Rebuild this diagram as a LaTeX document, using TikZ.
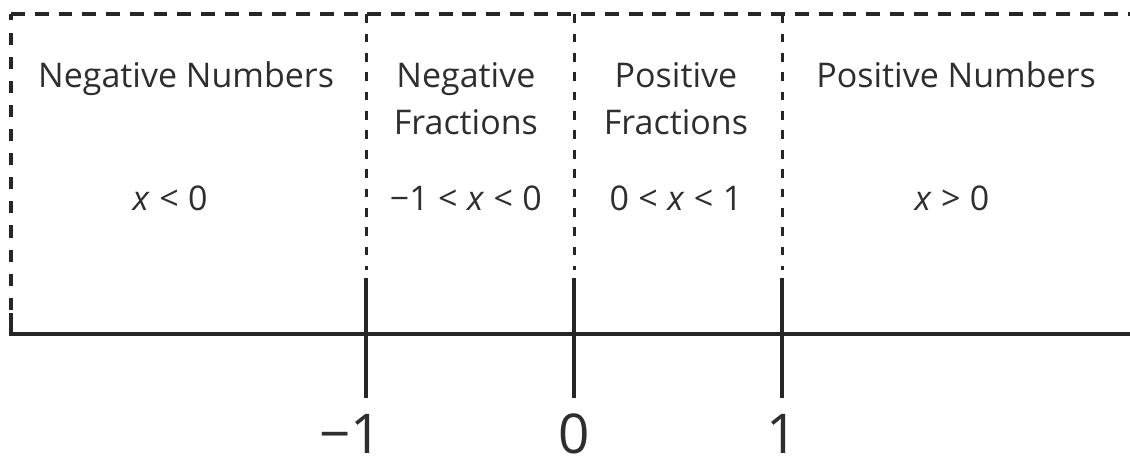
\documentclass[tikz,border=0pt]{standalone}
\usepackage{fontspec}
\setmainfont{Open Sans}
\usetikzlibrary{positioning}

\begin{document}
\begin{tikzpicture}[x=2cm, y=2cm, line join=miter,
    region/.style={font=\fontsize{9.3}{12.9}\selectfont, align=center, anchor=base, inner sep=0pt, text=black!82},
    ineq/.style={font=\fontsize{9.3}{12.9}\selectfont, anchor=base, inner sep=0pt, text=black!82},
    ticklabel/.style={font=\fontsize{15}{16}\selectfont, anchor=base, inner sep=0pt, text depth=0pt, text=black!82},
    frame/.style={black!85, line width=1.2pt, dash pattern=on 3.8pt off 2.7pt},
    sideframe/.style={black!85, line width=1.3pt, dash pattern=on 3.3pt off 3.3pt},
    divider/.style={black!85, line width=0.8pt, dash pattern=on 2.4pt off 2.9pt},
    tickmark/.style={black!85, line width=1.3pt}]
    \useasboundingbox (-2.76,-0.639) rectangle (2.673,1.606);
    % frame and number line
    \coordinate (L) at (-2.707,0);
    \coordinate (R) at (2.673,0);
    \coordinate (TL) at (-2.707,1.538);
    \coordinate (TR) at (2.673,1.538);
    \draw[frame] (TL) -- (TR);
    \draw[sideframe] (L) -- (TL);
    \draw[black!85, line width=1pt] ([yshift=0.2cm]L) -- (L) -- (R);
    % ticks
    \coordinate (Ta) at (-1,0.269);
    \coordinate (Ba) at (-1,-0.308);
    \coordinate (Tb) at (0,0.269);
    \coordinate (Bb) at (0,-0.308);
    \coordinate (Tc) at (1,0.269);
    \coordinate (Bc) at (1,-0.308);
    \draw[tickmark] (Ta) -- (Ba);
    \draw[tickmark, line width=1.1pt] (Tb) -- (Bb);
    \draw[tickmark] (Tc) -- (Bc);
    \draw[divider] (-1,1.538) -- ([yshift=0.08cm]Ta);
    \draw[divider] (0,1.538) -- ([yshift=0.08cm]Tb);
    \draw[divider] (1,1.538) -- ([yshift=0.08cm]Tc);
    % labels
    \node[ticklabel] (ma) at (-1,-0.575) {\llap{−}1};
    \node[ticklabel] (mb) at (0,-0.575) {0};
    \node[ticklabel] (mc) at (1,-0.575) {1};
    \node[region] (nn) at (-1.865,1.183) {Negative Numbers};
    \node[region] (nf) at (-0.52,0.957) {Negative\\Fractions};
    \node[region] (pf) at (0.49,0.957) {Positive\\Fractions};
    \node[region] (pn) at (1.837,1.183) {Positive Numbers};
    \node[ineq] (in) at (-1.942,0.596) {\textit{x}\;<\;0};
    \node[ineq] (if) at (-0.52,0.596) {−1\;<\;\textit{x}\;<\;0};
    \node[ineq] (ip) at (0.49,0.596) {0\;<\;\textit{x}\;<\;1};
    \node[ineq] (ix) at (1.817,0.596) {\textit{x}\;>\;0};
\end{tikzpicture}
\end{document}
